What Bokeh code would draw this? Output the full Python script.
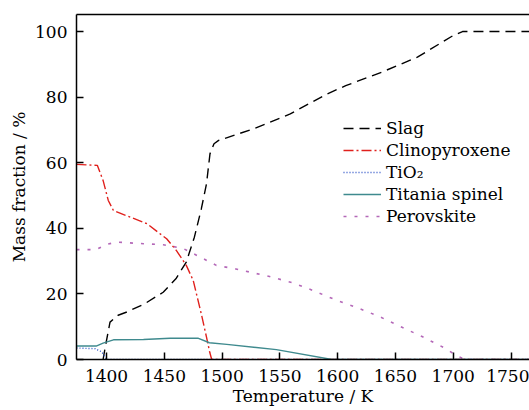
from bokeh.plotting import figure
from bokeh.models import Range1d, Legend, LegendItem, LinearAxis, FixedTicker
from bokeh.embed import file_html
from bokeh.resources import INLINE

# ---- data ----
slag_T = [1397, 1399, 1403, 1410, 1417, 1433, 1449, 1460, 1469, 1476, 1482, 1486.5, 1489.5, 1493, 1497,
          1527, 1559, 1591, 1607, 1638, 1669, 1700, 1708, 1766]
slag = [0, 4, 11.4, 13.5, 14.4, 17.0, 20.5, 24.6, 29.7, 37.3, 45.9, 53.6, 62.7, 65.8, 66.8,
        70.3, 74.9, 81.0, 83.5, 87.6, 92.2, 98.8, 100, 100]

cpx_T = [1374, 1392, 1397, 1401.5, 1406, 1417, 1435, 1452, 1460.5, 1469, 1475, 1482, 1486.5, 1489.3, 1491, 1766]
cpx = [59.5, 59.2, 54.6, 48.5, 45.4, 43.9, 41.4, 36.8, 33.2, 28.7, 24.1, 13.9, 6.8, 2.2, 0, 0]

tio2_T = [1374, 1390, 1396, 1400, 1766]
tio2 = [3.5, 3.3, 2.3, 0, 0]

spinel_T = [1374, 1391, 1397, 1406, 1432, 1455, 1479, 1489, 1504, 1547, 1595, 1766]
spinel = [4.1, 4.1, 5.0, 6.0, 6.1, 6.5, 6.5, 5.1, 4.6, 3.0, 0, 0]

perov_T = [1374, 1391, 1400, 1409, 1432, 1449, 1466, 1484, 1495, 1512, 1541, 1561, 1579, 1598,
           1617, 1636, 1654, 1673, 1692, 1702, 1710, 1766]
perov = [33.5, 33.5, 35.1, 35.8, 35.3, 35.0, 33.9, 30.7, 28.7, 27.6, 25.3, 23.4, 21.0, 18.2,
         15.8, 13.1, 10.1, 7.0, 3.6, 1.4, 0, 0]

x_ticks = [1400, 1450, 1500, 1550, 1600, 1650, 1700, 1750]
y_ticks = [0, 20, 40, 60, 80, 100]

FONT = "DejaVu Serif"
FS = "17px"

p = figure(width=529, height=410, output_backend="svg", toolbar_location=None,
           x_range=Range1d(1374, 1766), y_range=Range1d(0, 105.2),
           min_border_left=76, min_border_right=0, min_border_top=14, min_border_bottom=51)
p.grid.visible = False
p.outline_line_color = None
p.background_fill_color = "white"
p.border_fill_color = "white"

for ax in (p.xaxis[0], p.yaxis[0]):
    ax.axis_line_color = "black"
    ax.axis_line_width = 1.5
    ax.major_tick_in = 7
    ax.major_tick_out = 0
    ax.major_tick_line_width = 1.5
    ax.minor_tick_line_color = None
    ax.major_label_text_font = FONT
    ax.major_label_text_font_size = FS
    ax.major_label_text_color = "black"
    ax.axis_label_text_font = FONT
    ax.axis_label_text_font_size = FS
    ax.axis_label_text_font_style = "normal"
    ax.axis_label_text_color = "black"

p.xaxis[0].ticker = FixedTicker(ticks=x_ticks)
p.yaxis[0].ticker = FixedTicker(ticks=y_ticks)
p.xaxis[0].axis_label = "Temperature / K"
p.yaxis[0].axis_label = "Mass fraction / %"
p.xaxis[0].major_label_standoff = 10
p.yaxis[0].major_label_standoff = 9
p.xaxis[0].axis_label_standoff = 1
p.yaxis[0].axis_label_standoff = 3

top = LinearAxis(ticker=FixedTicker(ticks=[]), axis_line_color="black", axis_line_width=1.5,
                 major_label_text_font_size="0px", major_tick_line_color=None,
                 minor_tick_line_color=None)
p.add_layout(top, "above")

r_perov = p.line(perov_T, perov, line_color="#b468b8", line_width=1.6, line_dash="3 8")
r_slag = p.line(slag_T, slag, line_color="black", line_width=1.4, line_dash="10 6")
r_cpx = p.line(cpx_T, cpx, line_color="#e0201c", line_width=1.4, line_dash="10 3 2 3")
r_tio2 = p.line(tio2_T, tio2, line_color="#2f55c8", line_width=1.4, line_dash="1 2")
r_sp = p.line(spinel_T, spinel, line_color="#3f8a8e", line_width=1.4)

legend = Legend(items=[
    LegendItem(label="Slag", renderers=[r_slag]),
    LegendItem(label="Clinopyroxene", renderers=[r_cpx]),
    LegendItem(label="TiO\u2082", renderers=[r_tio2]),
    LegendItem(label="Titania spinel", renderers=[r_sp]),
    LegendItem(label="Perovskite", renderers=[r_perov]),
], location=(267, 133), orientation="vertical")
legend.background_fill_alpha = 0
legend.border_line_color = None
legend.padding = 0
legend.margin = 0
legend.spacing = 2
legend.glyph_width = 38
legend.glyph_height = 20
legend.label_height = 20
legend.label_standoff = 5
legend.label_text_font = FONT
legend.label_text_font_size = FS
legend.label_text_color = "black"
p.add_layout(legend, "center")

open("out.html", "w").write(file_html(p, INLINE))
